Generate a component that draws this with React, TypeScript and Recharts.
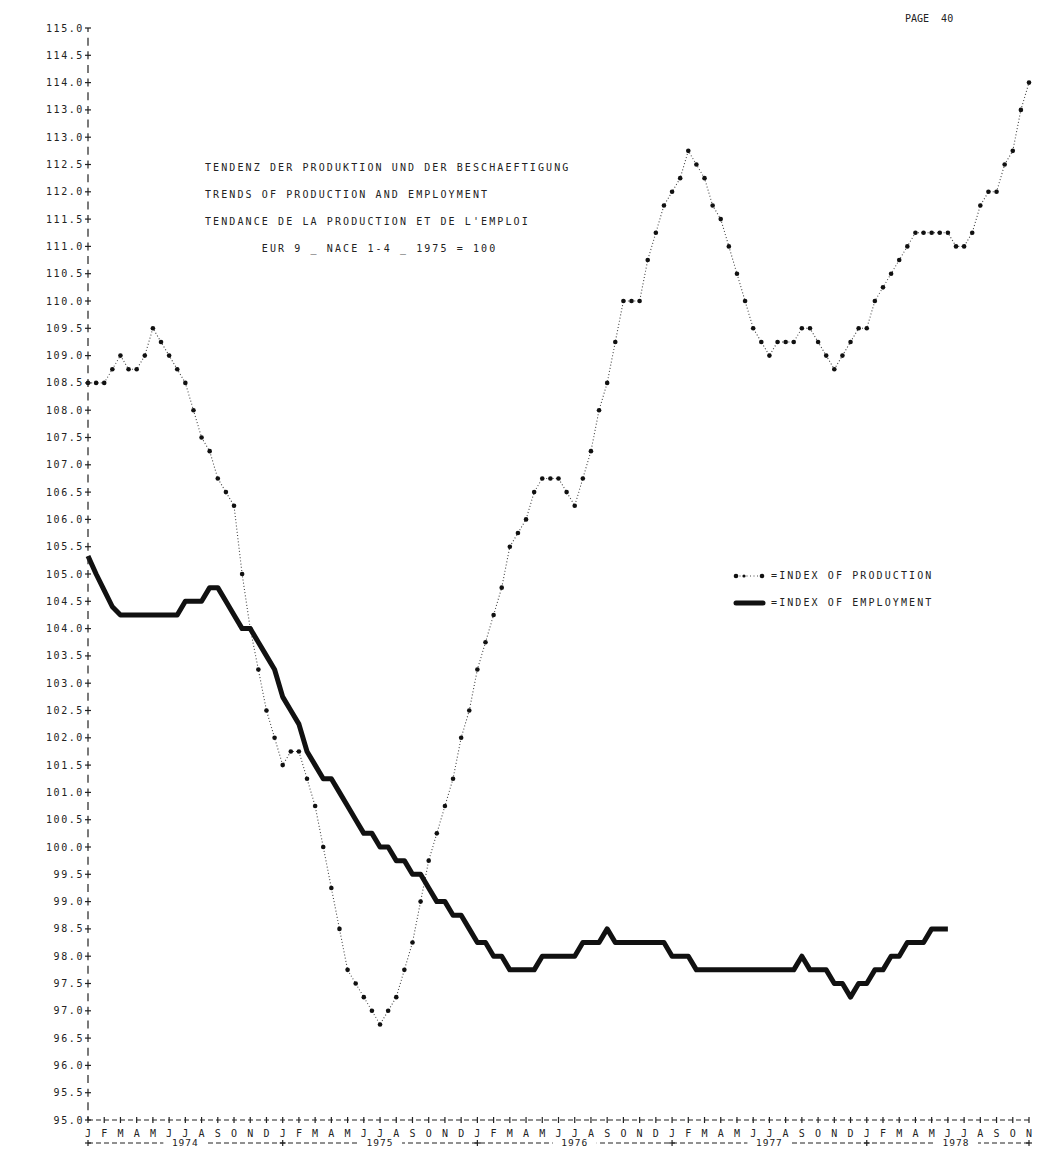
import { LineChart, Line, XAxis, YAxis, Legend } from 'recharts'

// half-monthly plotting positions, Jan 1974 .. Nov 1978
const production = [
  108.5, 108.5, 108.5, 108.75, 109.0, 108.75, 108.75, 109.0, 109.5, 109.25,
  109.0, 108.75, 108.5, 108.0, 107.5, 107.25, 106.75, 106.5, 106.25, 105.0,
  104.0, 103.25, 102.5, 102.0, 101.5, 101.75, 101.75, 101.25, 100.75, 100.0,
  99.25, 98.5, 97.75, 97.5, 97.25, 97.0, 96.75, 97.0, 97.25, 97.75,
  98.25, 99.0, 99.75, 100.25, 100.75, 101.25, 102.0, 102.5, 103.25, 103.75,
  104.25, 104.75, 105.5, 105.75, 106.0, 106.5, 106.75, 106.75, 106.75, 106.5,
  106.25, 106.75, 107.25, 108.0, 108.5, 109.25, 110.0, 110.0, 110.0, 110.75,
  111.25, 111.75, 112.0, 112.25, 112.75, 112.5, 112.25, 111.75, 111.5, 111.0,
  110.5, 110.0, 109.5, 109.25, 109.0, 109.25, 109.25, 109.25, 109.5, 109.5,
  109.25, 109.0, 108.75, 109.0, 109.25, 109.5, 109.5, 110.0, 110.25, 110.5,
  110.75, 111.0, 111.25, 111.25, 111.25, 111.25, 111.25, 111.0, 111.0, 111.25,
  111.75, 112.0, 112.0, 112.5, 112.75, 113.5, 114.0,
]

const employment = [
  105.33, 105.0, 104.7, 104.4, 104.25, 104.25, 104.25, 104.25, 104.25, 104.25,
  104.25, 104.25, 104.5, 104.5, 104.5, 104.75, 104.75, 104.5, 104.25, 104.0,
  104.0, 103.75, 103.5, 103.25, 102.75, 102.5, 102.25, 101.75, 101.5, 101.25,
  101.25, 101.0, 100.75, 100.5, 100.25, 100.25, 100.0, 100.0, 99.75, 99.75,
  99.5, 99.5, 99.25, 99.0, 99.0, 98.75, 98.75, 98.5, 98.25, 98.25,
  98.0, 98.0, 97.75, 97.75, 97.75, 97.75, 98.0, 98.0, 98.0, 98.0,
  98.0, 98.25, 98.25, 98.25, 98.5, 98.25, 98.25, 98.25, 98.25, 98.25,
  98.25, 98.25, 98.0, 98.0, 98.0, 97.75, 97.75, 97.75, 97.75, 97.75,
  97.75, 97.75, 97.75, 97.75, 97.75, 97.75, 97.75, 97.75, 98.0, 97.75,
  97.75, 97.75, 97.5, 97.5, 97.25, 97.5, 97.5, 97.75, 97.75, 98.0,
  98.0, 98.25, 98.25, 98.25, 98.5, 98.5, 98.5,
]

const monthLetters = ['J', 'F', 'M', 'A', 'M', 'J', 'J', 'A', 'S', 'O', 'N', 'D']
const years = ['1974', '1975', '1976', '1977', '1978']
const yearCenters = [12, 36, 60, 84, 107]
const yearBounds = [0, 24, 48, 72, 96, 116]

// as printed (the 113.5 row reads 113.0 on the original)
const yTickLabels = [
  '115.0', '114.5', '114.0', '113.0', '113.0', '112.5', '112.0', '111.5', '111.0', '110.5',
  '110.0', '109.5', '109.0', '108.5', '108.0', '107.5', '107.0', '106.5', '106.0', '105.5',
  '105.0', '104.5', '104.0', '103.5', '103.0', '102.5', '102.0', '101.5', '101.0', '100.5',
  '100.0', '99.5', '99.0', '98.5', '98.0', '97.5', '97.0', '96.5', '96.0', '95.5', '95.0',
]

const titleLines = [
  'TENDENZ DER PRODUKTION UND DER BESCHAEFTIGUNG',
  'TRENDS OF PRODUCTION AND EMPLOYMENT',
  "TENDANCE DE LA PRODUCTION ET DE L'EMPLOI",
  '       EUR 9 _ NACE 1-4 _ 1975 = 100',
]

const seriesOrder = ['production', 'employment']

const FONT = '"DejaVu Sans Mono", "Liberation Mono", monospace'
const INK = '#222'

const data = production.map((p, i) => ({
  i,
  production: p,
  employment: i < employment.length ? employment[i] : null,
}))

const monthTicks = production.map((_, i) => i).filter((i) => i % 2 === 0)
const yTicks = yTickLabels.map((_, k) => 115 - k * 0.5)

function MonthTick({ x, y, payload }: any) {
  const label = monthLetters[(payload.value / 2) % 12]
  return (
    <g>
      <line x1={x} x2={x} y1={y - 3} y2={y + 3} stroke={INK} strokeWidth={1.2} />
      <text x={x} y={y + 17} textAnchor="middle" fontSize={10} fontFamily={FONT} fill={INK}>
        {label}
      </text>
    </g>
  )
}

function YearTick({ x, y, payload }: any) {
  const c = yearCenters.indexOf(payload.value)
  if (c >= 0) {
    return (
      <g>
        <rect x={x - 22} y={y - 5} width={44} height={10} fill="#fff" />
        <text x={x} y={y + 3} textAnchor="middle" fontSize={9.5} fontFamily={FONT} letterSpacing={1} fill={INK}>
          {years[c]}
        </text>
      </g>
    )
  }
  return (
    <g>
      <line x1={x} x2={x} y1={y - 3} y2={y + 3} stroke={INK} strokeWidth={1.2} />
      <line x1={x - 3} x2={x + 3} y1={y} y2={y} stroke={INK} strokeWidth={1.2} />
    </g>
  )
}

function ValueTick({ x, y, payload }: any) {
  const k = Math.round((115 - payload.value) / 0.5)
  return (
    <g>
      <line x1={x - 3} x2={x + 3} y1={y} y2={y} stroke={INK} strokeWidth={1.2} />
      <text x={x - 4} y={y + 3.5} textAnchor="end" fontSize={10} fontFamily={FONT} letterSpacing={1.6} fill={INK}>
        {yTickLabels[k]}
      </text>
    </g>
  )
}

function LegendBox({ payload }: any) {
  const items = [...(payload || [])].sort(
    (a: any, b: any) => seriesOrder.indexOf(a.dataKey) - seriesOrder.indexOf(b.dataKey),
  )
  return (
    <div style={{ fontFamily: FONT, fontSize: 10, letterSpacing: 2.1, color: INK }}>
      {items.map((entry: any) => (
        <div key={entry.value} style={{ display: 'flex', alignItems: 'center', height: 27 }}>
          <svg width={34} height={10}>
            {entry.dataKey === 'production' ? (
              <g>
                <line x1={3} x2={29} y1={5} y2={5} stroke="#444" strokeDasharray="1 2.5" />
                <circle cx={3} cy={5} r={2.3} fill="#111" />
                <circle cx={11} cy={5} r={1.6} fill="#111" />
                <circle cx={29} cy={5} r={2.3} fill="#111" />
              </g>
            ) : (
              <line x1={3} x2={30} y1={5} y2={5} stroke="#111" strokeWidth={5} strokeLinecap="round" />
            )}
          </svg>
          <span style={{ marginLeft: 4 }}>={entry.value}</span>
        </div>
      ))}
    </div>
  )
}

export default function App() {
  return (
    <div style={{ position: 'absolute', left: 0, top: 0, width: 1062, height: 1151, background: '#fff' }}>
      {/* page number */}
      <div style={{ position: 'absolute', left: 905, top: 13, fontFamily: FONT, fontSize: 10, color: INK, whiteSpace: 'pre' }}>
        PAGE  40
      </div>

      {/* title block */}
      <div
        style={{
          position: 'absolute',
          left: 205,
          top: 154,
          fontFamily: FONT,
          fontSize: 10,
          letterSpacing: 2.1,
          lineHeight: '27px',
          color: INK,
          whiteSpace: 'pre',
          zIndex: 2,
        }}
      >
        {titleLines.map((t) => (
          <div key={t}>{t}</div>
        ))}
      </div>

      <LineChart width={1062} height={1151} data={data} margin={{ top: 28, right: 33, bottom: 0, left: 0 }}>
        <XAxis
          dataKey="i"
          type="number"
          domain={[0, 116]}
          ticks={monthTicks}
          interval={0}
          tick={<MonthTick />}
          tickLine={false}
          tickSize={0}
          tickMargin={0}
          height={23}
          axisLine={{ stroke: INK, strokeWidth: 1.2, strokeDasharray: '5 3' }}
        />
        <XAxis
          xAxisId="year"
          dataKey="i"
          type="number"
          domain={[0, 116]}
          ticks={[...yearBounds, ...yearCenters]}
          interval={0}
          tick={<YearTick />}
          tickLine={false}
          tickSize={0}
          tickMargin={0}
          height={8}
          axisLine={{ stroke: INK, strokeWidth: 1.2, strokeDasharray: '5 3' }}
        />
        <YAxis
          type="number"
          domain={[95, 115]}
          ticks={yTicks}
          interval={0}
          width={88}
          tick={<ValueTick />}
          tickLine={false}
          tickSize={0}
          tickMargin={0}
          axisLine={{ stroke: INK, strokeWidth: 1.2, strokeDasharray: '8 5.65', strokeDashoffset: 4 }}
        />
        <Legend
          content={<LegendBox />}
          layout="horizontal"
          verticalAlign="middle"
          align="center"
          wrapperStyle={{ left: 733, top: 562, width: 280 }}
        />
        <Line
          dataKey="production"
          name="INDEX OF PRODUCTION"
          type="linear"
          stroke="#444"
          strokeWidth={1.1}
          strokeDasharray="1 2.2"
          dot={{ r: 2.3, fill: '#111', stroke: 'none' }}
          activeDot={false}
          isAnimationActive={false}
        />
        <Line
          dataKey="employment"
          name="INDEX OF EMPLOYMENT"
          type="linear"
          stroke="#111"
          strokeWidth={5}
          strokeLinejoin="round"
          dot={false}
          activeDot={false}
          connectNulls={false}
          isAnimationActive={false}
        />
      </LineChart>
    </div>
  )
}
